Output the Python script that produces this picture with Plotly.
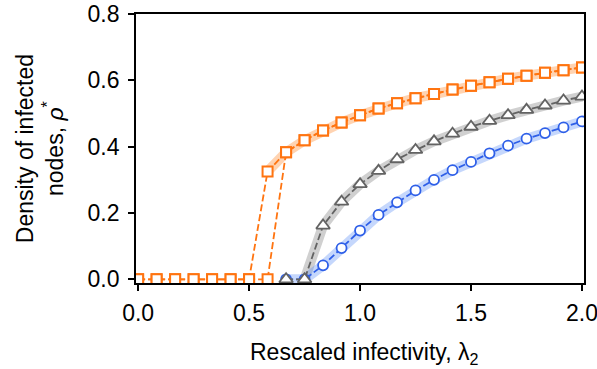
import plotly.graph_objects as go

# lambda_2 values (x positions of the markers)
lam = [0.0, 0.0833, 0.1667, 0.25, 0.3333, 0.4167, 0.5, 0.5833, 0.6667, 0.75,
       0.8333, 0.9167, 1.0, 1.0833, 1.1667, 1.25, 1.3333, 1.4167, 1.5, 1.5833,
       1.6667, 1.75, 1.8333, 1.9167, 2.0]

# orange: forward branch (zero until the jump) and backward branch (hysteresis)
orange_fwd = [0, 0, 0, 0, 0, 0, 0, 0, 0.383, 0.419, 0.449, 0.473, 0.495, 0.515,
              0.531, 0.546, 0.559, 0.572, 0.584, 0.594, 0.605, 0.614, 0.623, 0.630, 0.639]
orange_bwd = [0, 0, 0, 0, 0, 0, 0, 0.325, 0.383, 0.419, 0.449, 0.473, 0.495, 0.515,
              0.531, 0.546, 0.559, 0.572, 0.584, 0.594, 0.605, 0.614, 0.623, 0.630, 0.639]

lam_gb = lam[8:]
gray_vals = [0, 0, 0.162, 0.234, 0.287, 0.327, 0.362, 0.390, 0.416, 0.439, 0.460,
             0.478, 0.495, 0.511, 0.524, 0.539, 0.551]
blue_vals = [0, 0, 0.042, 0.094, 0.147, 0.194, 0.232, 0.268, 0.300, 0.329, 0.354,
             0.380, 0.403, 0.424, 0.441, 0.458, 0.476]

x_ticks = [0.0, 0.5, 1.0, 1.5, 2.0]
y_ticks = [0.0, 0.2, 0.4, 0.6, 0.8]

ORANGE = "#ff7410"
GRAY = "#636363"
BLUE = "#2e5fe8"

fig = go.Figure()

# shaded bands
fig.add_trace(go.Scatter(x=lam[7:], y=orange_bwd[7:], mode="lines",
                         line=dict(color="rgba(255,140,50,0.38)", width=10),
                         hoverinfo="skip", showlegend=False))
fig.add_trace(go.Scatter(x=lam_gb[1:], y=gray_vals[1:], mode="lines",
                         line=dict(color="rgba(150,150,150,0.45)", width=10),
                         hoverinfo="skip", showlegend=False))
fig.add_trace(go.Scatter(x=lam_gb, y=blue_vals, mode="lines",
                         line=dict(color="rgba(90,140,245,0.35)", width=10),
                         hoverinfo="skip", showlegend=False))

dash = "7px,3px"
fig.add_trace(go.Scatter(x=lam_gb, y=blue_vals, mode="lines+markers",
                         line=dict(color=BLUE, width=1.8, dash=dash),
                         marker=dict(symbol="circle", size=10, color="white",
                                     line=dict(color=BLUE, width=1.8)),
                         showlegend=False))
fig.add_trace(go.Scatter(x=lam_gb, y=gray_vals, mode="lines+markers",
                         line=dict(color=GRAY, width=1.8, dash=dash),
                         marker=dict(symbol="triangle-up", size=12, color="white",
                                     line=dict(color=GRAY, width=1.8)),
                         showlegend=False))
fig.add_trace(go.Scatter(x=lam, y=orange_bwd, mode="lines+markers",
                         line=dict(color=ORANGE, width=1.8, dash=dash),
                         marker=dict(symbol="square", size=10, color="white",
                                     line=dict(color=ORANGE, width=2)),
                         showlegend=False))
fig.add_trace(go.Scatter(x=lam, y=orange_fwd, mode="lines+markers",
                         line=dict(color=ORANGE, width=1.8, dash=dash),
                         marker=dict(symbol="square", size=10, color="white",
                                     line=dict(color=ORANGE, width=2)),
                         showlegend=False))

font = dict(family="Liberation Sans, Arial, sans-serif", size=23, color="black")

fig.update_layout(
    width=597, height=369,
    margin=dict(l=136, r=13, t=14, b=86, autoexpand=False),
    paper_bgcolor="white", plot_bgcolor="white",
    font=font,
    xaxis=dict(range=[-0.0095, 2.009], tickvals=x_ticks,
               ticktext=[f"{v:.1f}" for v in x_ticks],
               showgrid=False, zeroline=False, showline=True, mirror=True,
               linecolor="black", linewidth=1.8, ticks="outside", ticklen=6,
               tickwidth=1.5, tickcolor="black", ticklabeloverflow="allow",
               ticklabelstandoff=2, automargin=False),
    yaxis=dict(range=[-0.0112, 0.8], tickvals=y_ticks,
               ticktext=[f"{v:.1f}" for v in y_ticks],
               showgrid=False, zeroline=False, showline=True, mirror=True,
               linecolor="black", linewidth=1.8, ticks="outside", ticklen=6,
               tickwidth=1.5, tickcolor="black", ticklabeloverflow="allow",
               ticklabelstandoff=4, automargin=False),
    annotations=[
        dict(text="Rescaled infectivity, λ<sub>2</sub>", xref="paper", yref="paper",
             x=0.51, y=-0.262, xanchor="center", yanchor="middle",
             showarrow=False, font=font),
        dict(text="Density of infected<br>nodes, <i>ρ</i><sup>*</sup>",
             xref="paper", yref="paper", x=-0.215, y=0.5, xanchor="center",
             yanchor="middle", textangle=-90, showarrow=False, font=font),
    ],
)

fig.write_html("out.html")
